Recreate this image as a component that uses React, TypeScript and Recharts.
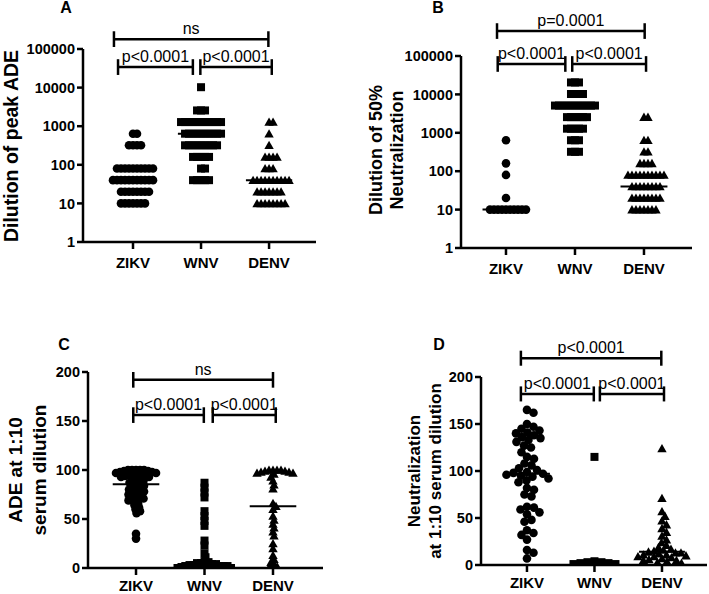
import React from 'react';
import { ScatterChart, Scatter, XAxis, YAxis, ReferenceLine } from 'recharts';

const groups = ['ZIKV', 'WNV', 'DENV'];

// A: dilution of peak ADE
const adePeakZikv = [640, 640, 320, 320, 320, 320, 80, 80, 80, 80, 80, 80, 80, 80, 80, 80, 40, 40, 40, 40, 40, 40, 40, 40, 40, 40, 40, 20, 20, 20, 20, 20, 20, 20, 20, 10, 10, 10, 10, 10, 10, 10];
const adePeakWnv = [10240, 2560, 2560, 2560, 1280, 1280, 1280, 1280, 1280, 1280, 1280, 1280, 1280, 1280, 1280, 640, 640, 640, 640, 640, 640, 640, 640, 640, 640, 320, 320, 320, 320, 320, 320, 320, 320, 320, 160, 160, 160, 160, 160, 80, 80, 40, 40, 40, 40, 40];
const adePeakDenv = [1280, 1280, 640, 320, 160, 160, 160, 160, 80, 80, 80, 40, 40, 40, 40, 40, 40, 40, 40, 40, 40, 20, 20, 20, 20, 20, 20, 20, 10, 10, 10, 10, 10, 10, 10, 10];

// B: dilution of 50% neutralization
const neut50Zikv = [640, 160, 80, 20, 10, 10, 10, 10, 10, 10, 10, 10, 10, 10];
const neut50Wnv = [20480, 20480, 20480, 10240, 10240, 10240, 10240, 5120, 5120, 5120, 5120, 5120, 5120, 5120, 5120, 5120, 5120, 5120, 2560, 2560, 2560, 2560, 2560, 2560, 1280, 1280, 1280, 1280, 1280, 640, 640, 640, 320, 320, 320];
const neut50Denv = [2560, 2560, 640, 640, 320, 320, 160, 160, 160, 160, 80, 80, 80, 80, 80, 80, 80, 80, 80, 80, 40, 40, 40, 40, 40, 40, 40, 40, 20, 20, 20, 20, 20, 20, 20, 20, 10, 10, 10, 10, 10, 10, 10];

// C: ADE at 1:10 serum dilution
const ade10Zikv = [100, 100, 100, 100, 100, 99, 99, 98, 98, 97, 97, 96, 96, 95, 95, 94, 94, 93, 93, 92, 91, 90, 89, 88, 87, 86, 85, 84, 83, 82, 81, 80, 79, 78, 77, 76, 75, 74, 73, 72, 71, 70, 69, 68, 66, 64, 62, 60, 58, 56, 35, 30];
const ade10Wnv = [87, 82, 77, 72, 58, 53, 48, 43, 28, 23, 15, 11, 7, 6, 5, 5, 4, 4, 3, 3, 3, 2, 2, 2, 2, 1, 1, 1, 1, 0, 0, 0];
const ade10Denv = [100, 100, 100, 100, 99, 99, 98, 98, 97, 97, 96, 93, 89, 85, 81, 66, 63, 60, 53, 49, 45, 41, 37, 33, 25, 20, 13, 9, 6, 4, 2, 1, 0];

// D: neutralization at 1:10 serum dilution
const neut10Zikv = [165, 162, 150, 147, 145, 143, 141, 140, 138, 136, 135, 133, 131, 127, 125, 120, 115, 113, 108, 106, 103, 101, 99, 98, 97, 96, 95, 94, 92, 90, 88, 82, 80, 75, 73, 62, 61, 59, 56, 54, 48, 46, 37, 34, 32, 27, 16, 13, 7];
const neut10Wnv = [115, 4, 3, 3, 2, 2, 1, 1];
const neut10Denv = [124, 71, 57, 52, 47, 43, 39, 35, 31, 27, 24, 21, 19, 17, 16, 15, 14, 13, 13, 12, 11, 11, 10, 9, 9, 8, 7, 6, 5, 5, 4, 3, 2];

const logTicks = [1, 10, 100, 1000, 10000, 100000];
const linTicks = [0, 50, 100, 150, 200];

const FONT = "'Liberation Sans', Arial, Helvetica, sans-serif";
const INK = '#000';
const Y_AXIS_W = 70;

type Bracket = { x1: number; x2: number; y: number; text: string };

type Panel = {
  letter: string;
  left: number;
  top: number;
  width: number;
  height: number;
  margin: { top: number; right: number; bottom: number; left: number };
  xAxisH: number;
  xTickMargin: number;
  xDomain: [number, number];
  log: boolean;
  yDomain: [number, number];
  yTicks: number[];
  title: string[];
  titleX: number[];
  titleY: number;
  titleSize: number;
  letterX: number;
  letterY: number;
  series: number[][];
  gaps: number[];
  brackets: Bracket[];
};

const panels: Panel[] = [
  {
    letter: 'A', left: 0, top: 0, width: 354, height: 297,
    margin: { top: 49, right: 38, bottom: 25, left: 13 }, xAxisH: 30, xTickMargin: 8,
    xDomain: [0.265, 3.69], log: true, yDomain: [1, 100000], yTicks: logTicks,
    title: ['Dilution of peak ADE'], titleX: [11], titleY: 146, titleSize: 19.5,
    letterX: 66, letterY: 13,
    series: [adePeakZikv, adePeakWnv, adePeakDenv], gaps: [4, 4, 4],
    brackets: [
      { x1: 0.72, x2: 2.99, y: 180000, text: 'ns' },
      { x1: 0.78, x2: 1.88, y: 34000, text: 'p<0.0001' },
      { x1: 1.99, x2: 3.04, y: 34000, text: 'p<0.0001' },
    ],
  },
  {
    letter: 'B', left: 354, top: 0, width: 355, height: 297,
    margin: { top: 56, right: 17, bottom: 19, left: 37 }, xAxisH: 30, xTickMargin: 8,
    xDomain: [0.348, 3.696], log: true, yDomain: [1, 100000], yTicks: logTicks,
    title: ['Dilution of 50%', 'Neutralization'], titleX: [22, 43], titleY: 150, titleSize: 18,
    letterX: 84, letterY: 13,
    series: [neut50Zikv, neut50Wnv, neut50Denv], gaps: [4, 4, 4],
    brackets: [
      { x1: 0.87, x2: 3.01, y: 446000, text: 'p=0.0001' },
      { x1: 0.88, x2: 1.86, y: 62000, text: 'p<0.0001' },
      { x1: 1.96, x2: 3.03, y: 62000, text: 'p<0.0001' },
    ],
  },
  {
    letter: 'C', left: 0, top: 297, width: 354, height: 297,
    margin: { top: 75, right: 31, bottom: 6, left: 18 }, xAxisH: 20, xTickMargin: 5,
    xDomain: [0.299, 3.73], log: false, yDomain: [0, 200], yTicks: linTicks,
    title: ['ADE at 1:10', 'serum dilution'], titleX: [15, 39], titleY: 173, titleSize: 19,
    letterX: 64, letterY: 53,
    series: [ade10Zikv, ade10Wnv, ade10Denv], gaps: [4, 4, 4],
    brackets: [
      { x1: 0.96, x2: 3.0, y: 192, text: 'ns' },
      { x1: 0.96, x2: 1.99, y: 156, text: 'p<0.0001' },
      { x1: 2.12, x2: 3.04, y: 156, text: 'p<0.0001' },
    ],
  },
  {
    letter: 'D', left: 354, top: 297, width: 355, height: 297,
    margin: { top: 80, right: 2, bottom: 9, left: 57 }, xAxisH: 20, xTickMargin: 5,
    xDomain: [0.319, 3.667], log: false, yDomain: [0, 200], yTicks: linTicks,
    title: ['Neutralization', 'at 1:10 serum dilution'], titleX: [60, 81], titleY: 174, titleSize: 17,
    letterX: 85, letterY: 53,
    series: [neut10Zikv, neut10Wnv, neut10Denv], gaps: [7, 7, 5.5],
    brackets: [
      { x1: 0.91, x2: 2.99, y: 220, text: 'p<0.0001' },
      { x1: 0.91, x2: 1.99, y: 182, text: 'p<0.0001' },
      { x1: 2.08, x2: 3.03, y: 182, text: 'p<0.0001' },
    ],
  },
];

const median = (arr: number[]) => {
  const s = [...arr].sort((a, b) => a - b);
  const m = s.length / 2;
  return s.length % 2 ? s[Math.floor(m)] : (s[m - 1] + s[m]) / 2;
};

// simple beeswarm: horizontal pixel offset for each value so markers don't pile up
function swarm(values: number[], toPx: (v: number) => number, gap: number) {
  const order = values.map((_, i) => i).sort((a, b) => values[b] - values[a]);
  const placed: { x: number; y: number }[] = [];
  const out = new Array(values.length).fill(0);
  for (const i of order) {
    const y = toPx(values[i]);
    let best = 0;
    for (let k = 0; k < 600; k++) {
      const cand = k === 0 ? 0 : (k % 2 ? 1 : -1) * Math.ceil(k / 2) * 0.5;
      if (placed.every((p) => (p.x - cand) ** 2 + (p.y - y) ** 2 >= gap * gap - 1e-6)) {
        best = cand;
        break;
      }
    }
    placed.push({ x: best, y });
    out[i] = best;
  }
  return out;
}

const kinds = ['circle', 'square', 'triangle'];

const marker = (kind: string) => (props: any) => {
  const { cx, cy } = props;
  if (cx == null || cy == null) return null;
  if (kind === 'circle') return <circle cx={cx} cy={cy} r={4.3} fill={INK} />;
  if (kind === 'square') return <rect x={cx - 4} y={cy - 4} width={8} height={8} fill={INK} />;
  return <path d={`M${cx},${cy - 4.5}L${cx + 4.7},${cy + 3.8}L${cx - 4.7},${cy + 3.8}Z`} fill={INK} />;
};

const axisStroke = { stroke: INK, strokeWidth: 2.5 };

const PanelChart = ({ p }: { p: Panel }) => {
  const plotW = p.width - p.margin.left - p.margin.right - Y_AXIS_W;
  const plotH = p.height - p.margin.top - p.margin.bottom - p.xAxisH;
  const pxPerX = plotW / (p.xDomain[1] - p.xDomain[0]);
  const toPx = p.log
    ? (v: number) => (Math.log10(v) * plotH) / (Math.log10(p.yDomain[1]) - Math.log10(p.yDomain[0]))
    : (v: number) => (v * plotH) / (p.yDomain[1] - p.yDomain[0]);

  const seriesData = p.series.map((vals, gi) => {
    const offs = swarm(vals, toPx, p.gaps[gi]);
    return vals.map((v, i) => ({ x: gi + 1 + offs[i] / pxPerX, y: v }));
  });

  const cap = (y: number, dir: number) => (p.log ? y * Math.pow(1.6, dir) : y + 8 * dir);

  return (
    <div style={{ position: 'absolute', left: p.left, top: p.top }}>
      <ScatterChart width={p.width} height={p.height} margin={p.margin}>
        <XAxis
          type="number"
          dataKey="x"
          domain={p.xDomain}
          ticks={[1, 2, 3]}
          interval={0}
          allowDataOverflow
          height={p.xAxisH}
          tickFormatter={(v) => groups[Math.round(v) - 1]}
          axisLine={axisStroke}
          tickLine={axisStroke}
          tickSize={7}
          tickMargin={p.xTickMargin}
          tick={{ fill: INK, fontSize: 15, fontWeight: 700, fontFamily: FONT }}
        />
        <YAxis
          type="number"
          dataKey="y"
          scale={p.log ? 'log' : 'linear'}
          domain={p.yDomain}
          ticks={p.yTicks}
          interval={0}
          allowDataOverflow
          width={Y_AXIS_W}
          axisLine={axisStroke}
          tickLine={axisStroke}
          tickSize={6}
          tickMargin={2}
          tickFormatter={(v) => String(v)}
          tick={{ fill: INK, fontSize: 14.5, fontWeight: 700, fontFamily: FONT }}
        />
        {seriesData.map((d, gi) => (
          <Scatter key={groups[gi]} name={groups[gi]} data={d} shape={marker(kinds[gi])} isAnimationActive={false} />
        ))}
        {p.series.map((vals, gi) => (
          <ReferenceLine
            key={'med' + gi}
            segment={[{ x: gi + 1 - 0.34, y: median(vals) }, { x: gi + 1 + 0.34, y: median(vals) }]}
            stroke={INK}
            strokeWidth={2}
            ifOverflow="visible"
          />
        ))}
        {p.brackets.map((b, bi) => [
          <ReferenceLine
            key={'b' + bi}
            segment={[{ x: b.x1, y: b.y }, { x: b.x2, y: b.y }]}
            stroke={INK}
            strokeWidth={2.5}
            ifOverflow="visible"
            label={{ value: b.text, position: 'top', offset: 5, fill: INK, fontSize: 16, fontFamily: FONT }}
          />,
          <ReferenceLine
            key={'bl' + bi}
            segment={[{ x: b.x1, y: cap(b.y, -1) }, { x: b.x1, y: cap(b.y, 1) }]}
            stroke={INK}
            strokeWidth={2.5}
            ifOverflow="visible"
          />,
          <ReferenceLine
            key={'br' + bi}
            segment={[{ x: b.x2, y: cap(b.y, -1) }, { x: b.x2, y: cap(b.y, 1) }]}
            stroke={INK}
            strokeWidth={2.5}
            ifOverflow="visible"
          />,
        ])}
        <text x={p.letterX} y={p.letterY} textAnchor="middle" fontSize={16} fontWeight={700} fontFamily={FONT} fill={INK}>
          {p.letter}
        </text>
        {p.title.map((line, li) => (
          <text
            key={'t' + li}
            x={p.titleX[li]}
            y={p.titleY}
            transform={`rotate(-90 ${p.titleX[li]} ${p.titleY})`}
            textAnchor="middle"
            dominantBaseline="central"
            fontSize={p.titleSize}
            fontWeight={700}
            fontFamily={FONT}
            fill={INK}
          >
            {line}
          </text>
        ))}
      </ScatterChart>
    </div>
  );
}

export default function App() {
  return (
    <div style={{ position: 'absolute', left: 0, top: 0, width: 709, height: 594, background: '#fff', overflow: 'hidden' }}>
      {panels.map((p) => (
        <PanelChart key={p.letter} p={p} />
      ))}
    </div>
  );
}
